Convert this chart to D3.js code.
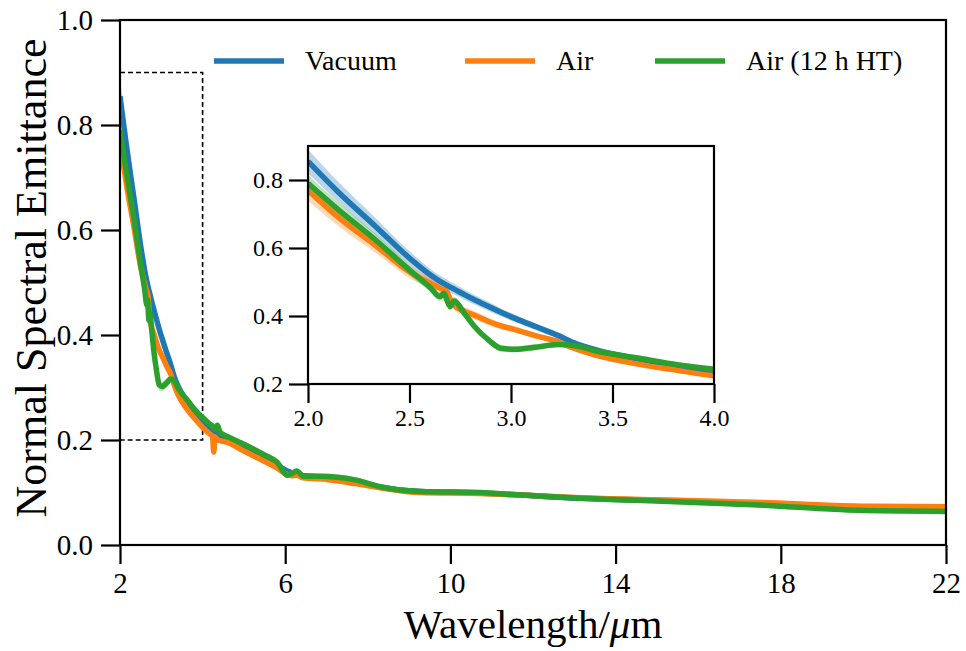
<!DOCTYPE html>
<html>
<head>
<meta charset="utf-8">
<script src="https://cdn.jsdelivr.net/npm/d3@7"></script>
<style>
  body { margin: 0; background: #fff; }
  svg text { font-family: 'Liberation Serif', 'DejaVu Serif', serif !important; }
</style>
</head>
<body>
<div id="chart"></div>
<script>
// wavelength grid in micrometres
const wavelengths = [2.00, 2.15, 2.33, 2.51, 2.60, 2.65, 2.67, 2.685, 2.70, 2.72, 2.77, 2.82, 2.89, 2.95, 3.02, 3.12, 3.23, 3.31, 3.42, 3.64, 3.82, 4.00,
  4.15, 4.24, 4.27, 4.30, 4.36, 4.42, 4.62, 5.00, 5.51, 5.80, 6.05, 6.15, 6.28, 6.44, 6.84, 7.69, 8.30, 9.26, 10.72, 11.50, 13.14, 15.00, 17.50, 19.90, 22.00];

const vacuum = [0.855, 0.764, 0.665, 0.565, 0.522, 0.502, 0.495, 0.490, 0.485, 0.479, 0.463, 0.448, 0.428, 0.411, 0.393, 0.369, 0.343, 0.321, 0.300, 0.272, 0.252, 0.235,
  0.224, 0.219, 0.217, 0.215, 0.212, 0.209, 0.200, 0.186, 0.164, 0.153, 0.141, 0.138, 0.136, 0.132, 0.130, 0.122, 0.110, 0.102, 0.099, 0.096, 0.089, 0.085, 0.077, 0.068, 0.066];
const air = [0.770, 0.690, 0.609, 0.526, 0.497, 0.482, 0.476, 0.470, 0.450, 0.432, 0.414, 0.402, 0.384, 0.371, 0.360, 0.342, 0.325, 0.305, 0.284, 0.257, 0.240, 0.224,
  0.213, 0.207, 0.177, 0.206, 0.201, 0.199, 0.195, 0.179, 0.159, 0.147, 0.134, 0.132, 0.133, 0.128, 0.126, 0.117, 0.109, 0.100, 0.098, 0.096, 0.090, 0.086, 0.081, 0.074, 0.073];
const airHT = [0.790, 0.712, 0.625, 0.530, 0.485, 0.457, 0.467, 0.445, 0.428, 0.444, 0.408, 0.369, 0.329, 0.305, 0.302, 0.308, 0.316, 0.313, 0.297, 0.275, 0.257, 0.243,
  0.232, 0.226, 0.222, 0.221, 0.228, 0.215, 0.206, 0.192, 0.171, 0.158, 0.133, 0.136, 0.141, 0.131, 0.131, 0.124, 0.111, 0.102, 0.100, 0.096, 0.089, 0.084, 0.076, 0.066, 0.064];

// half width of the shaded spread
const vacuumErr = [0.035, 0.030, 0.025, 0.020, 0.018, 0.017, 0.017, 0.017, 0.016, 0.016, 0.015, 0.014, 0.013, 0.012, 0.011, 0.010, 0.009, 0.009, 0.008, 0.007, 0.006, 0.006,
  0.005, 0.005, 0.005, 0.005, 0.005, 0.005, 0.005, 0.005, 0.005, 0.005, 0.005, 0.005, 0.005, 0.005, 0.005, 0.005, 0.005, 0.005, 0.005, 0.005, 0.005, 0.005, 0.005, 0.005, 0.005];
const airErr = [0.030, 0.026, 0.022, 0.018, 0.016, 0.015, 0.015, 0.015, 0.014, 0.014, 0.013, 0.012, 0.011, 0.010, 0.009, 0.008, 0.008, 0.007, 0.007, 0.006, 0.006, 0.005,
  0.005, 0.005, 0.005, 0.005, 0.005, 0.005, 0.005, 0.005, 0.005, 0.005, 0.005, 0.005, 0.005, 0.005, 0.005, 0.005, 0.005, 0.005, 0.005, 0.005, 0.005, 0.005, 0.005, 0.005, 0.005];
const airHTErr = [0.025, 0.022, 0.018, 0.015, 0.013, 0.012, 0.012, 0.012, 0.012, 0.012, 0.011, 0.011, 0.010, 0.010, 0.009, 0.009, 0.008, 0.008, 0.007, 0.006, 0.006, 0.005,
  0.005, 0.005, 0.005, 0.005, 0.005, 0.005, 0.005, 0.005, 0.005, 0.005, 0.005, 0.005, 0.005, 0.005, 0.005, 0.005, 0.005, 0.005, 0.005, 0.005, 0.005, 0.005, 0.005, 0.005, 0.005];

const seriesNames = ['Vacuum', 'Air', 'Air (12 h HT)'];
const seriesColors = ['#1f77b4', '#ff7f0e', '#2ca02c'];

const xTicks = [2, 6, 10, 14, 18, 22];
const yTicks = [0.0, 0.2, 0.4, 0.6, 0.8, 1.0];
const insetXTicks = [2.0, 2.5, 3.0, 3.5, 4.0];
const insetYTicks = [0.2, 0.4, 0.6, 0.8];

const series = [vacuum, air, airHT].map((vals, i) => ({
  name: seriesNames[i],
  color: seriesColors[i],
  points: wavelengths.map((w, j) => ({
    w,
    v: vals[j],
    e: [vacuumErr, airErr, airHTErr][i][j],
  })),
}));

const size = { width: 966, height: 651 };
const margin = { top: 20, right: 20, bottom: 106, left: 120 };

const svg = d3.select('#chart')
  .append('svg')
  .attr('width', size.width)
  .attr('height', size.height);

const x = d3.scaleLinear().domain([2, 22]).range([margin.left, size.width - margin.right]);
const y = d3.scaleLinear().domain([0, 1]).range([size.height - margin.bottom, margin.top]);

// draws bands + lines for a pair of scales into a group
const drawSeries = (g, xs, ys, lw) => {
  series.forEach((s) => {
    g.append('path')
      .datum(s.points)
      .attr('fill', s.color)
      .attr('fill-opacity', 0.3)
      .attr('d', d3.area()
        .x((d) => xs(d.w))
        .y0((d) => ys(d.v - d.e))
        .y1((d) => ys(d.v + d.e))
        .curve(d3.curveMonotoneX));
  });
  series.forEach((s) => {
    g.append('path')
      .datum(s.points)
      .attr('fill', 'none')
      .attr('stroke', s.color)
      .attr('stroke-width', lw)
      .attr('stroke-linejoin', 'round')
      .attr('d', d3.line()
        .x((d) => xs(d.w))
        .y((d) => ys(d.v))
        .curve(d3.curveMonotoneX));
  });
};

const styleAxis = (g, fs) => {
  g.select('.domain').remove();
  g.selectAll('line').attr('stroke-width', 2.2);
  g.selectAll('text').attr('font-size', fs).attr('fill', 'black');
};

svg.append('clipPath').attr('id', 'clip-main')
  .append('rect')
  .attr('x', x(2)).attr('y', y(1))
  .attr('width', x(22) - x(2)).attr('height', y(0) - y(1));

// zoom box
svg.append('rect')
  .attr('x', x(2)).attr('y', y(0.9))
  .attr('width', x(4) - x(2)).attr('height', y(0.2) - y(0.9))
  .attr('fill', 'none')
  .attr('stroke', 'black')
  .attr('stroke-width', 1.6)
  .attr('stroke-dasharray', '5,3');

drawSeries(svg.append('g').attr('clip-path', 'url(#clip-main)'), x, y, 5.5);

// main axes
const tickLen = 19;
svg.append('g')
  .attr('transform', `translate(0, ${y(0)})`)
  .call(d3.axisBottom(x).tickValues(xTicks).tickSize(tickLen).tickPadding(8).tickFormat(d3.format('d')))
  .call((g) => styleAxis(g, 29));

svg.append('g')
  .attr('transform', `translate(${x(2)}, 0)`)
  .call(d3.axisLeft(y).tickValues(yTicks).tickSize(tickLen).tickPadding(8).tickFormat(d3.format('.1f')))
  .call((g) => styleAxis(g, 29));

svg.append('rect')
  .attr('x', x(2)).attr('y', y(1))
  .attr('width', x(22) - x(2)).attr('height', y(0) - y(1))
  .attr('fill', 'none')
  .attr('stroke', 'black')
  .attr('stroke-width', 2.2);

const xLabel = svg.append('text')
  .attr('x', (x(2) + x(22)) / 2)
  .attr('y', 638)
  .attr('text-anchor', 'middle')
  .attr('font-size', 41);
xLabel.append('tspan').text('Wavelength/');
xLabel.append('tspan').attr('font-style', 'italic').text('μ');
xLabel.append('tspan').text('m');

svg.append('text')
  .attr('transform', 'translate(46, 278) rotate(-90)')
  .attr('text-anchor', 'middle')
  .attr('font-size', 44)
  .text('Normal Spectral Emittance');

// legend
const legend = svg.append('g');
const legendX = [214, 465, 655];
series.forEach((s, i) => {
  legend.append('line')
    .attr('x1', legendX[i]).attr('x2', legendX[i] + 70)
    .attr('y1', 61).attr('y2', 61)
    .attr('stroke', s.color)
    .attr('stroke-width', 5.5);
  legend.append('text')
    .attr('x', legendX[i] + 91)
    .attr('y', 70)
    .attr('font-size', 28)
    .text(s.name);
});

// inset
const inset = { left: 308, right: 714, top: 146, bottom: 384 };
const xi = d3.scaleLinear().domain([2, 4]).range([inset.left, inset.right]);
const yi = d3.scaleLinear().domain([0.2, 0.9]).range([inset.bottom, inset.top]);

svg.append('rect')
  .attr('x', inset.left).attr('y', inset.top)
  .attr('width', inset.right - inset.left).attr('height', inset.bottom - inset.top)
  .attr('fill', 'white');

svg.append('clipPath').attr('id', 'clip-inset')
  .append('rect')
  .attr('x', inset.left).attr('y', inset.top)
  .attr('width', inset.right - inset.left).attr('height', inset.bottom - inset.top);

drawSeries(svg.append('g').attr('clip-path', 'url(#clip-inset)'), xi, yi, 5.5);

svg.append('g')
  .attr('transform', `translate(0, ${inset.bottom})`)
  .call(d3.axisBottom(xi).tickValues(insetXTicks).tickSize(tickLen).tickPadding(6).tickFormat(d3.format('.1f')))
  .call((g) => styleAxis(g, 24));

svg.append('g')
  .attr('transform', `translate(${inset.left}, 0)`)
  .call(d3.axisLeft(yi).tickValues(insetYTicks).tickSize(tickLen).tickPadding(6).tickFormat(d3.format('.1f')))
  .call((g) => styleAxis(g, 24));

svg.append('rect')
  .attr('x', inset.left).attr('y', inset.top)
  .attr('width', inset.right - inset.left).attr('height', inset.bottom - inset.top)
  .attr('fill', 'none')
  .attr('stroke', 'black')
  .attr('stroke-width', 2.2);
</script>
</body>
</html>
